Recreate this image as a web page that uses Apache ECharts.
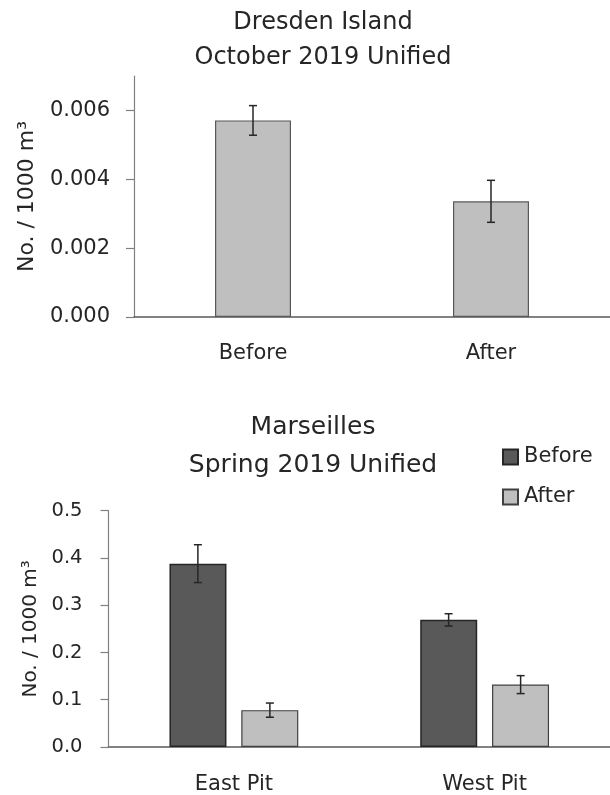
<!DOCTYPE html>
<html>
<head>
<meta charset="utf-8">
<script src="https://cdn.jsdelivr.net/npm/echarts@6/dist/echarts.min.js"></script>
<style>html,body{margin:0;padding:0;background:#fff}#c{width:610px;height:795px}</style>
</head>
<body>
<div id="c"></div>
<script>
// ---- data ----
const dresdenCategories = ['Before', 'After'];
const dresdenMean = [0.00571, 0.00336];
const dresdenErr = [0.00043, 0.00061];
const dresdenTicks = [0, 0.002, 0.004, 0.006];

const marseillesCategories = ['East Pit', 'West Pit'];
const beforeMean = [0.388, 0.269];
const beforeErr = [0.040, 0.013];
const afterMean = [0.078, 0.132];
const afterErr = [0.015, 0.019];
const marseillesTicks = [0, 0.1, 0.2, 0.3, 0.4, 0.5];

// ---- styles ----
const FONT = 'DejaVu Sans';
const TXT = '#262626';

function errData(mean, err) {
  return mean.map((m, i) => [i, m - err[i], m + err[i]]);
}
function errRender(offset) {
  return function (params, api) {
    const c = api.value(0);
    const lo = api.coord([c, api.value(1)]);
    const hi = api.coord([c, api.value(2)]);
    const x = lo[0] + offset;
    const st = { stroke: '#262626', lineWidth: 1.5 };
    return {
      type: 'group',
      children: [
        { type: 'line', shape: { x1: x, y1: lo[1], x2: x, y2: hi[1] }, style: st },
        { type: 'line', shape: { x1: x - 4, y1: lo[1], x2: x + 4, y2: lo[1] }, style: st },
        { type: 'line', shape: { x1: x - 4, y1: hi[1], x2: x + 4, y2: hi[1] }, style: st }
      ]
    };
  };
}

const chart = echarts.init(document.getElementById('c'), null, { renderer: 'canvas' });

const yAxisCommon = {
  type: 'value',
  min: 0,
  axisLine: { show: true, lineStyle: { color: '#808080', width: 1.2 } },
  axisTick: { show: true, inside: false, length: 8, lineStyle: { color: '#808080', width: 1.2 } },
  splitLine: { show: false },
  nameLocation: 'middle',
  nameRotate: 90
};
const xAxisCommon = {
  type: 'category',
  axisLine: { show: true, lineStyle: { color: '#595959', width: 1.5 } },
  axisTick: { show: false }
};

chart.setOption({
  animation: false,
  backgroundColor: '#ffffff',
  title: [
    {
      text: 'Dresden Island\nOctober 2019 Unified',
      left: 323, top: 5, padding: 0, textAlign: 'center',
      textStyle: { fontFamily: FONT, fontSize: 24, fontWeight: 'normal', color: TXT, lineHeight: 35.5 }
    },
    {
      text: 'Marseilles\nSpring 2019 Unified',
      left: 313, top: 408, padding: 0, textAlign: 'center',
      textStyle: { fontFamily: FONT, fontSize: 25, fontWeight: 'normal', color: TXT, lineHeight: 38 }
    }
  ],
  legend: {
    data: ['Before', 'After'],
    orient: 'vertical',
    left: 502, top: 445,
    padding: 0,
    itemWidth: 15, itemHeight: 15, itemGap: 16,
    icon: 'rect',
    textStyle: { fontFamily: FONT, fontSize: 21, color: TXT, lineHeight: 24, padding: [0, 0, 0, 1] }
  },
  grid: [
    { left: 134, right: -8, top: 76, height: 241 },
    { left: 108.5, right: -6.5, top: 510.7, height: 238.3 }
  ],
  xAxis: [
    Object.assign({}, xAxisCommon, {
      gridIndex: 0, data: dresdenCategories,
      axisLabel: { fontFamily: FONT, fontSize: 21, color: TXT, margin: 26 }
    }),
    Object.assign({}, xAxisCommon, {
      gridIndex: 1, data: marseillesCategories,
      axisLabel: { fontFamily: FONT, fontSize: 21, color: TXT, margin: 27 }
    })
  ],
  yAxis: [
    Object.assign({}, yAxisCommon, {
      gridIndex: 0, max: 0.007, interval: 0.002,
      name: 'No. / 1000 m³', nameGap: 96,
      nameTextStyle: { fontFamily: FONT, fontSize: 22, color: TXT },
      axisTick: Object.assign({}, yAxisCommon.axisTick, { customValues: dresdenTicks }),
      axisLabel: { customValues: dresdenTicks, fontFamily: FONT, fontSize: 21, color: TXT, margin: 24,
        formatter: v => v.toFixed(3) }
    }),
    Object.assign({}, yAxisCommon, {
      gridIndex: 1, max: 0.5, interval: 0.1,
      name: 'No. / 1000 m³', nameGap: 67,
      nameTextStyle: { fontFamily: FONT, fontSize: 20, color: TXT },
      axisTick: Object.assign({}, yAxisCommon.axisTick, { customValues: marseillesTicks }),
      axisLabel: { customValues: marseillesTicks, fontFamily: FONT, fontSize: 19.5, color: TXT, margin: 26,
        formatter: v => v.toFixed(1) }
    })
  ],
  series: [
    {
      name: 'Dresden Island', type: 'bar', xAxisIndex: 0, yAxisIndex: 0,
      data: dresdenMean, barWidth: 76,
      itemStyle: { color: '#bfbfbf', borderColor: '#595959', borderWidth: 1.2 }
    },
    {
      name: 'Dresden err', type: 'custom', xAxisIndex: 0, yAxisIndex: 0, z: 5,
      data: errData(dresdenMean, dresdenErr),
      encode: { x: 0, y: [1, 2] },
      renderItem: errRender(0)
    },
    {
      name: 'Before', type: 'bar', xAxisIndex: 1, yAxisIndex: 1,
      data: beforeMean, barWidth: 57, barGap: '26%',
      itemStyle: { color: '#595959', borderColor: '#262626', borderWidth: 1.5 }
    },
    {
      name: 'After', type: 'bar', xAxisIndex: 1, yAxisIndex: 1,
      data: afterMean, barWidth: 57, barGap: '26%',
      itemStyle: { color: '#bfbfbf', borderColor: '#404040', borderWidth: 1.2 }
    },
    {
      name: 'Before err', type: 'custom', xAxisIndex: 1, yAxisIndex: 1, z: 5,
      data: errData(beforeMean, beforeErr),
      encode: { x: 0, y: [1, 2] },
      renderItem: errRender(-36)
    },
    {
      name: 'After err', type: 'custom', xAxisIndex: 1, yAxisIndex: 1, z: 5,
      data: errData(afterMean, afterErr),
      encode: { x: 0, y: [1, 2] },
      renderItem: errRender(36)
    }
  ]
});
</script>
</body>
</html>
